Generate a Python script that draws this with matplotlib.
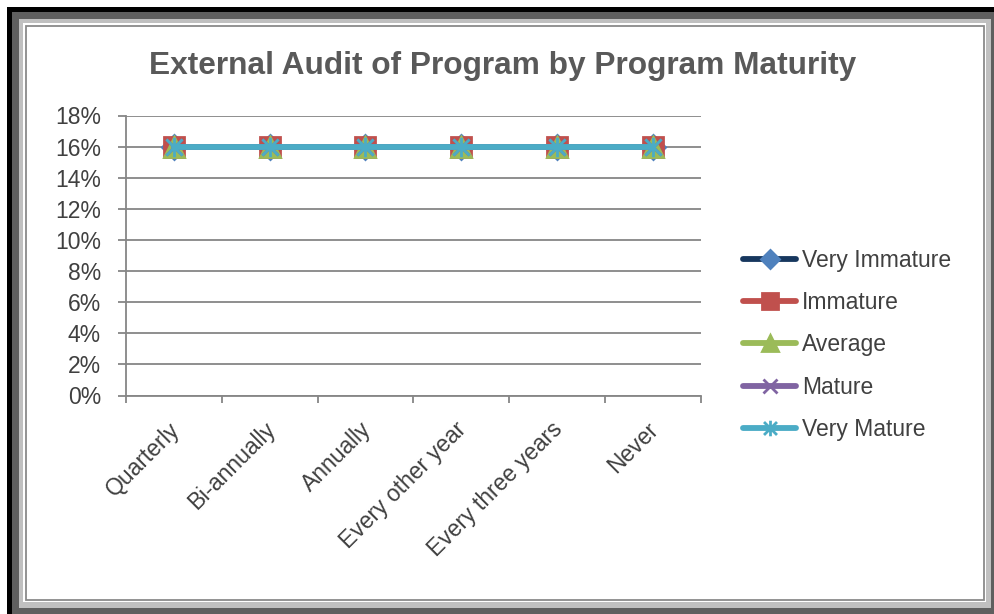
import numpy as np
import matplotlib
matplotlib.use("Agg")
import matplotlib.pyplot as plt
from matplotlib.patches import Rectangle
from matplotlib.path import Path
from matplotlib.ticker import PercentFormatter
from matplotlib.transforms import ScaledTranslation

plt.rcParams['font.family'] = ['Liberation Sans', 'DejaVu Sans']

categories = ["Quarterly", "Bi-annually", "Annually", "Every other year",
              "Every three years", "Never"]
series_names = ["Very Immature", "Immature", "Average", "Mature", "Very Mature"]
very_immature = [0.16, 0.16, 0.16, 0.16, 0.16, 0.16]
immature = [0.16, 0.16, 0.16, 0.16, 0.16, 0.16]
average = [0.16, 0.16, 0.16, 0.16, 0.16, 0.16]
mature = [0.16, 0.16, 0.16, 0.16, 0.16, 0.16]
very_mature = [0.16, 0.16, 0.16, 0.16, 0.16, 0.16]
yticks = [0, 0.02, 0.04, 0.06, 0.08, 0.10, 0.12, 0.14, 0.16, 0.18]

W, H = 995, 614
fig = plt.figure(figsize=(W / 100, H / 100), dpi=100)


def px(x0, y0, x1, y1):
    # pixel box (top-left origin) -> figure fraction rect
    return (x0 / W, 1 - y1 / H, (x1 - x0) / W, (y1 - y0) / H)


def frame_rect(x0, y0, x1, y1, **kw):
    l, b, w, h = px(x0, y0, x1, y1)
    fig.patches.append(Rectangle((l, b), w, h, transform=fig.transFigure, zorder=-10, **kw))


# Excel-ish shadowed frame
frame_rect(7, 7, 995, 614, facecolor='black', edgecolor='none')
frame_rect(12, 12, 995, 614, facecolor='#5f5f5f', edgecolor='none')
frame_rect(19, 19, 991, 608, facecolor='#c0c0c0', edgecolor='none')
frame_rect(23, 23, 986, 602, facecolor='white', edgecolor='none')
frame_rect(26, 26, 984, 600, facecolor='white', edgecolor='#8a8a8a', linewidth=1.3)

ax = fig.add_axes(px(126, 115.5, 700.5, 395.5))
ax.set_facecolor('none')

x = np.arange(len(categories))

# star marker like excel: x with a vertical bar
star = Path([(-1, -1), (1, 1), (-1, 1), (1, -1), (0, -1.2), (0, 1.2)],
            [Path.MOVETO, Path.LINETO, Path.MOVETO, Path.LINETO, Path.MOVETO, Path.LINETO])

styles = [
    (very_immature, '#17375e', 'D', '#4f81bd', '#4f81bd', 12),
    (immature, '#c0504d', 's', '#c0504d', '#c0504d', 14),
    (average, '#9bbb59', '^', '#9bbb59', '#9bbb59', 14),
    (mature, '#8064a2', 'x', 'none', '#8064a2', 12),
    (very_mature, '#4bacc6', star, 'none', '#4bacc6', 14),
]
for (vals, lc, mk, mfc, mec, ms), name in zip(styles, series_names):
    ax.plot(x, vals, color=lc, linewidth=4.2, marker=mk, markersize=ms,
            markerfacecolor=mfc, markeredgecolor=mec, markeredgewidth=2,
            solid_capstyle='round', label=name, zorder=3)

ax.set_xlim(-0.5, len(categories) - 0.5)
ax.set_ylim(0, 0.18)
ax.set_yticks(yticks)
ax.yaxis.set_major_formatter(PercentFormatter(1.0, decimals=0))
ax.grid(axis='y', color='#868686', linewidth=1.3)
ax.set_axisbelow(True)

ax.set_xticks(x)
ax.set_xticklabels(categories, rotation=45, ha='right', va='top', rotation_mode='anchor')
ax.set_xticks(np.arange(-0.5, len(categories)), minor=True)
ax.tick_params(axis='x', which='major', length=0, pad=14, labelsize=16.5, labelcolor='#404040')
ax.tick_params(axis='x', which='minor', length=5, width=1.3, color='#868686', direction='out')
ax.tick_params(axis='y', length=6, width=1.3, color='#868686', pad=12,
               labelsize=16.5, labelcolor='#404040')
# nudge category labels a bit left/down like the original
shift = ScaledTranslation(-6 / 100, -3 / 100, fig.dpi_scale_trans)
for lab in ax.get_xticklabels():
    lab.set_transform(lab.get_transform() + shift)

for side in ['top', 'right']:
    ax.spines[side].set_visible(False)
for side in ['left', 'bottom']:
    ax.spines[side].set_color('#868686')
    ax.spines[side].set_linewidth(1.3)

fig.text(503 / W, 1 - 66 / H, "External Audit of Program by Program Maturity",
         ha='center', va='center', fontsize=22.8, fontweight='bold', color='#595959')

leg = fig.legend(loc='center left', bbox_to_anchor=(732 / W, 1 - 345 / H),
                 frameon=False, fontsize=16.5, handlelength=2.3, handletextpad=0.25,
                 labelspacing=0.83, markerscale=0.8, borderpad=0)
for t in leg.get_texts():
    t.set_color('#404040')

fig.savefig('out.png', dpi=100)
